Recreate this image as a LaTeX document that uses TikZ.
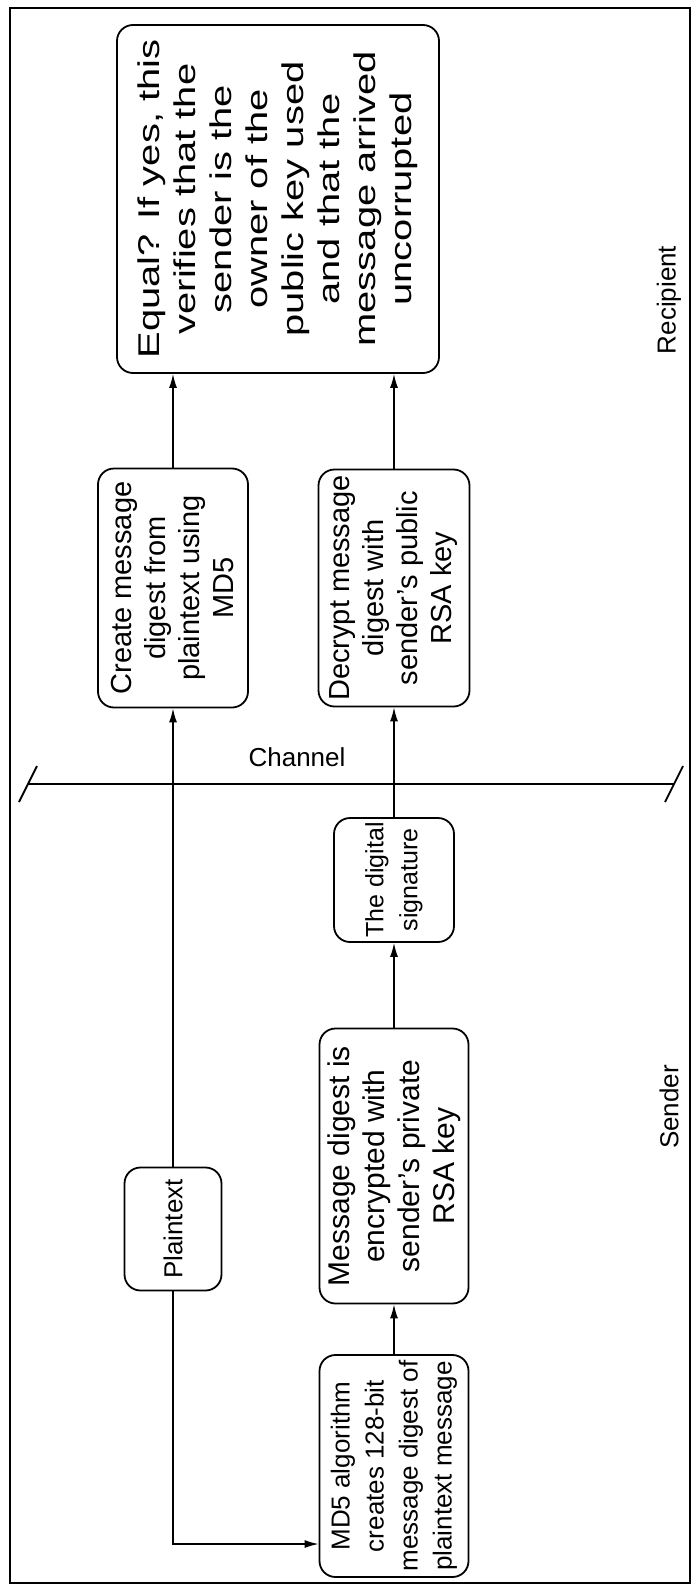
\documentclass[tikz,border=0pt]{standalone}
\usepackage{fontspec}
\setmainfont{Liberation Sans}
\usetikzlibrary{arrows.meta}
\begin{document}
\begin{tikzpicture}[x=0.5pt,y=0.5pt,
  box/.style={draw, line width=0.9pt, rounded corners=8pt, rotate=90, align=center,
    font=\fontsize{13}{17}\selectfont, inner sep=0pt},
  arr/.style={line width=0.7pt, -{Latex[length=7pt,width=4pt]}},
  lab/.style={font=\fontsize{13}{17}\selectfont, inner sep=0pt}]
\useasboundingbox (0,0) rectangle (692,-1594);
\draw[line width=0.9pt] (10,-8) rectangle (690,-1583);

\node[box, font=\fontsize{15}{18}\selectfont, minimum width=174pt, minimum height=161pt] (equal) at (278,-199)
  {\scalebox{1.33}[1]{\begin{tabular}{@{}c@{}}Equal? If yes, this\\verifies that the\\sender is the\\owner of the\\public key used\\and that the\\message arrived\\uncorrupted\end{tabular}}};
\node[box, font=\fontsize{14.5}{17}\selectfont, minimum width=119.5pt, minimum height=75pt] (create) at (173,-588)
  {Create message\\digest from\\plaintext using\\MD5};
\node[box, font=\fontsize{14.5}{17}\selectfont, minimum width=118.5pt, minimum height=75.5pt] (decrypt) at (394,-588)
  {Decrypt message\\digest with\\sender's public\\RSA key};
\node[box, font=\fontsize{12.5}{17}\selectfont, minimum width=62pt, minimum height=60pt] (sig) at (394,-880)
  {The digital\\signature};
\node[box, minimum width=61.5pt, minimum height=48.5pt] (plain) at (173,-1229)
  {Plaintext};
\node[box, font=\fontsize{15}{17.5}\selectfont, minimum width=137.5pt, minimum height=74.5pt] (enc) at (394,-1166)
  {Message digest is\\encrypted with\\sender's private\\RSA key};
\node[box, minimum width=111pt, minimum height=74.5pt] (md5) at (394,-1466)
  {MD5 algorithm\\creates 128-bit\\message digest of\\plaintext message};

\coordinate (bend) at (173,-1544);
\draw[arr] (plain.east) -- (create.west);
\draw[arr] (plain.west) -- (bend) -- (bend -| md5.north);
\draw[arr] (md5.east) -- (enc.west);
\draw[arr] (enc.east) -- (sig.west);
\draw[arr] (sig.east) -- (decrypt.west);
\draw[arr] (create.east) -- (create.east |- equal.west);
\draw[arr] (decrypt.east) -- (decrypt.east |- equal.west);

\coordinate (chL) at (28,-784);
\coordinate (chR) at (674,-784);
\draw[line width=1.2pt] (chL) -- (chR);
\draw[line width=0.9pt] (chL) ++(-9,-18) -- ++(18,36);
\draw[line width=0.9pt] (chR) ++(-9,-18) -- ++(18,36);

\node[lab] (chan) at (297,-757) {Channel};
\node[lab, rotate=90] (rec) at (669,-300) {Recipient};
\node[lab, rotate=90] (snd) at (669,-1107) {Sender};
\end{tikzpicture}
\end{document}
